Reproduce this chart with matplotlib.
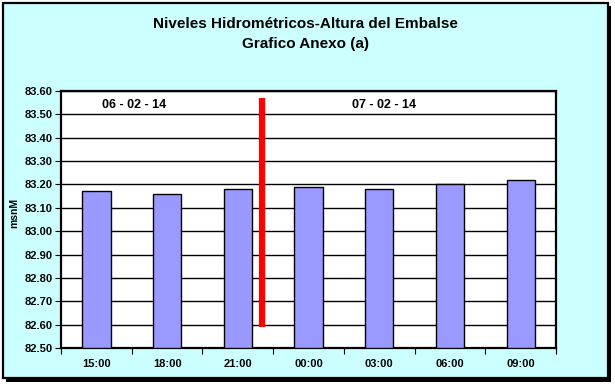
import numpy as np
import matplotlib.pyplot as plt
from matplotlib.patches import Rectangle

plt.rcParams['font.family'] = ['Liberation Sans', 'DejaVu Sans']

# data
horas = ['15:00', '18:00', '21:00', '00:00', '03:00', '06:00', '09:00']
niveles = [83.17, 83.16, 83.18, 83.19, 83.18, 83.20, 83.22]
y_ticks = [82.50, 82.60, 82.70, 82.80, 82.90, 83.00, 83.10, 83.20, 83.30, 83.40, 83.50, 83.60]
fechas = ['06 - 02 - 14', '07 - 02 - 14']
fecha_x = [0.53, 4.07]
corte_x = 2.34
corte_y = [82.59, 83.57]

fig = plt.figure(figsize=(6.15, 3.85), dpi=100)
fig.patch.set_facecolor('white')

# outer frame with shadow
fig.patches.append(Rectangle((6 / 615, 1 - 382 / 385), 605 / 615, 376 / 385,
                             transform=fig.transFigure, facecolor='black',
                             edgecolor='none', zorder=-2))
fig.patches.append(Rectangle((3 / 615, 1 - 378 / 385), 605 / 615, 375 / 385,
                             transform=fig.transFigure, facecolor='#CCFFFF',
                             edgecolor='black', linewidth=1.6, zorder=-1))

ax = fig.add_axes([61 / 615, 37 / 385, 495 / 615, 257 / 385])
ax.set_zorder(2)
ax.set_facecolor('white')

x = np.arange(len(horas))
ax.bar(x, np.array(niveles) - 82.5, bottom=82.5, width=0.4,
       color='#9999FF', edgecolor='black', linewidth=1.0, zorder=3)

ax.set_xlim(-0.5, len(horas) - 0.5)
ax.set_ylim(82.5, 83.6)
ax.set_yticks(y_ticks)
ax.set_yticklabels([f'{v:.2f}' for v in y_ticks])
ax.yaxis.grid(True, color='black', linewidth=1.0, zorder=0)
ax.set_axisbelow(True)

ax.set_xticks(x)
ax.set_xticklabels(horas)
ax.set_xticks(np.arange(-0.5, len(horas)), minor=True)
ax.tick_params(axis='x', which='major', length=0, pad=8)
ax.tick_params(axis='x', which='minor', length=4, width=0.8, direction='out')
ax.tick_params(axis='y', length=4, width=0.8, direction='out', pad=2)
for lbl in ax.get_xticklabels() + ax.get_yticklabels():
    lbl.set_fontsize(8)
    lbl.set_fontweight('bold')

for s in ax.spines.values():
    s.set_linewidth(1.6)
    s.set_color('black')

ax.plot([corte_x, corte_x], corte_y, color='red', linewidth=4.5,
        solid_capstyle='butt', zorder=5)

for fx, txt in zip(fecha_x, fechas):
    ax.text(fx, 83.54, txt, ha='center', va='center', fontsize=9,
            fontweight='bold', zorder=6)

ax.set_ylabel('msnM', fontsize=7.5, fontweight='bold')
ax.yaxis.set_label_coords(-42 / 495, 0.525)

fig.text(305 / 615, 1 - 24 / 385, 'Niveles Hidrométricos-Altura del Embalse',
         ha='center', va='center', fontsize=11, fontweight='bold')
fig.text(305 / 615, 1 - 44 / 385, 'Grafico Anexo (a)',
         ha='center', va='center', fontsize=11, fontweight='bold')

fig.savefig('out.png', dpi=100)
